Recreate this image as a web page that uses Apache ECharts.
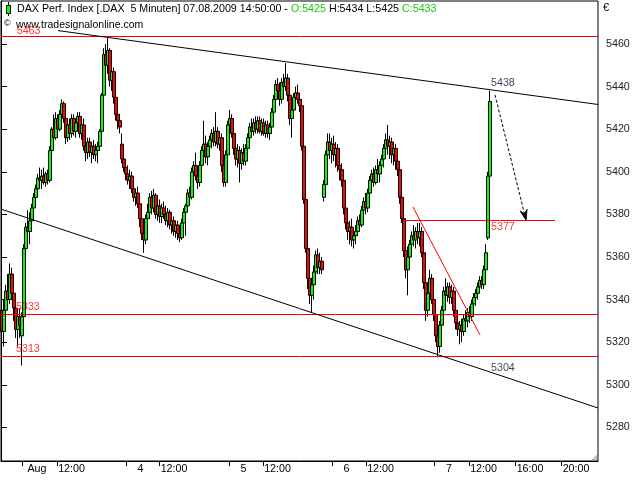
<!DOCTYPE html>
<html><head><meta charset="utf-8">
<script src="https://cdn.jsdelivr.net/npm/echarts@6/dist/echarts.min.js"></script>
<style>html,body{margin:0;padding:0;background:#fff}#c{width:640px;height:480px}</style>
</head><body><div id="c"></div>
<script>
// Each candle = [open, high, low, close], one candle per two 5-minute bars
const julTail = [
[5335,5349,5304,5325],[5325,5340,5318,5335],[5335,5347,5330,5344],[5344,5352,5336,5340],[5340,5357,5338,5352],
[5352,5355,5340,5343],[5343,5348,5330,5336],[5336,5340,5322,5326],[5326,5335,5318,5332],[5332,5336,5322,5328]];
const aug3 = [
[5323,5334,5309,5332],[5332,5366,5330,5364],[5364,5376,5360,5374],[5374,5382,5368,5372],[5372,5381,5366,5377],
[5377,5385,5372,5383],[5383,5390,5380,5388],[5388,5394,5384,5392],[5392,5399,5390,5397],[5397,5402,5393,5396],
[5396,5401,5392,5398],[5398,5402,5394,5395],[5395,5400,5393,5399],[5399,5401,5394,5396],[5396,5412,5395,5410],
[5410,5421,5408,5420],[5420,5427,5414,5416],[5416,5428,5415,5425],[5425,5427,5418,5420],[5420,5429,5419,5427],
[5427,5434,5424,5432],[5432,5433,5423,5425],[5425,5428,5413,5416],[5416,5424,5414,5422],[5422,5425,5415,5418],
[5418,5427,5416,5425],[5425,5427,5417,5419],[5419,5425,5416,5423],[5423,5428,5419,5426],[5426,5428,5416,5418],
[5418,5424,5415,5422],[5422,5425,5410,5412],[5412,5418,5405,5409],[5409,5416,5406,5414],[5414,5416,5407,5409],
[5409,5414,5404,5412],[5412,5415,5406,5408],[5408,5413,5405,5410],[5410,5414,5404,5412],[5412,5420,5410,5419],
[5419,5437,5417,5436],[5436,5458,5434,5455],[5455,5460,5445,5450],[5450,5463,5446,5457],[5457,5458,5440,5443],
[5443,5450,5438,5447],[5447,5449,5432,5435],[5435,5438,5424,5427],[5427,5430,5420,5424],[5424,5427,5418,5421]];
const aug4 = [
[5413,5418,5404,5406],[5406,5410,5400,5402],[5402,5406,5396,5399],[5399,5403,5394,5396],[5396,5401,5392,5398],
[5398,5400,5390,5392],[5392,5396,5386,5388],[5388,5392,5384,5390],[5390,5393,5383,5385],[5385,5388,5374,5378],
[5378,5382,5368,5371],[5371,5376,5362,5368],[5368,5380,5366,5378],[5378,5385,5375,5381],[5381,5390,5378,5388],
[5388,5391,5380,5383],[5383,5392,5381,5389],[5389,5390,5378,5380],[5380,5386,5377,5384],[5384,5387,5376,5379],
[5379,5385,5376,5383],[5383,5386,5378,5380],[5380,5384,5375,5377],[5377,5383,5374,5381],[5381,5382,5373,5375],
[5375,5380,5371,5377],[5377,5379,5370,5372],[5372,5377,5369,5375],[5375,5377,5368,5371],[5371,5374,5367,5369],
[5369,5378,5368,5376],[5376,5383,5372,5381],[5381,5385,5370,5384],[5384,5392,5382,5390],[5390,5393,5386,5388],
[5388,5402,5387,5400],[5400,5405,5395,5403],[5403,5409,5396,5398],[5398,5402,5392,5395],[5395,5405,5393,5403],
[5403,5412,5400,5410],[5410,5424,5407,5413],[5413,5417,5404,5407],[5407,5414,5403,5412],[5412,5417,5409,5415],
[5415,5420,5411,5418],[5418,5421,5412,5414],[5414,5428,5412,5419],[5419,5421,5411,5413],[5413,5418,5410,5416]];
const aug5 = [
[5416,5418,5400,5403],[5403,5405,5393,5395],[5395,5410,5393,5408],[5408,5424,5406,5422],[5422,5429,5418,5425],
[5425,5427,5416,5418],[5418,5420,5408,5411],[5411,5415,5403,5406],[5406,5413,5402,5410],[5410,5412,5395,5404],
[5404,5411,5401,5409],[5409,5413,5403,5405],[5405,5413,5403,5411],[5411,5418,5409,5416],[5416,5423,5414,5421],
[5421,5425,5417,5419],[5419,5425,5417,5423],[5423,5426,5418,5420],[5420,5426,5418,5424],[5424,5426,5418,5419],
[5419,5425,5417,5423],[5423,5425,5417,5418],[5418,5424,5416,5422],[5422,5424,5416,5418],[5418,5423,5415,5421],
[5421,5430,5418,5428],[5428,5436,5426,5434],[5434,5443,5432,5441],[5441,5444,5435,5438],[5438,5442,5431,5434],
[5434,5444,5432,5442],[5442,5446,5437,5440],[5440,5451,5438,5444],[5444,5446,5433,5436],[5436,5438,5422,5425],
[5425,5430,5416,5429],[5429,5437,5427,5435],[5435,5440,5431,5437],[5437,5441,5432,5434],[5434,5437,5428,5431],
[5431,5434,5410,5412],[5412,5414,5385,5387],[5387,5390,5362,5364],[5364,5368,5345,5350],[5350,5355,5338,5342],
[5342,5350,5334,5347],[5347,5356,5340,5353],[5353,5363,5350,5361],[5361,5364,5352,5355],[5355,5362,5352,5358],
[5358,5360,5352,5354]];
const aug6 = [
[5388,5396,5386,5394],[5394,5410,5392,5408],[5408,5418,5405,5414],[5414,5418,5406,5410],[5410,5416,5404,5413],
[5413,5417,5405,5408],[5408,5414,5402,5411],[5411,5413,5400,5403],[5403,5407,5396,5401],[5401,5404,5393,5396],
[5396,5398,5380,5383],[5383,5386,5373,5376],[5376,5380,5368,5372],[5372,5377,5366,5374],[5374,5378,5365,5368],
[5368,5372,5364,5370],[5370,5375,5366,5372],[5372,5379,5370,5377],[5377,5380,5373,5375],[5375,5384,5374,5382],
[5382,5388,5379,5386],[5386,5390,5380,5383],[5383,5392,5381,5390],[5390,5398,5388,5396],[5396,5401,5392,5399],
[5399,5402,5393,5395],[5395,5403,5394,5401],[5401,5406,5396,5399],[5399,5405,5395,5403],[5403,5408,5399,5406],
[5406,5413,5402,5411],[5411,5418,5407,5415],[5415,5422,5408,5412],[5412,5417,5406,5414],[5414,5416,5404,5408],
[5408,5414,5403,5411],[5411,5413,5401,5405],[5405,5408,5398,5401],[5401,5403,5385,5388],[5388,5390,5376,5378],
[5378,5380,5360,5363],[5363,5368,5350,5354],[5354,5365,5342,5360],[5360,5368,5357,5366],[5366,5372,5362,5370],
[5370,5375,5365,5368],[5368,5374,5364,5372],[5372,5376,5366,5369],[5369,5376,5365,5372]];
const aug7 = [
[5372,5374,5360,5362],[5362,5364,5345,5348],[5348,5352,5330,5335],[5335,5345,5332,5343],[5343,5354,5340,5350],
[5350,5352,5338,5340],[5340,5342,5330,5333],[5333,5336,5320,5323],[5323,5326,5313,5318],[5318,5330,5315,5328],
[5328,5337,5325,5335],[5335,5346,5332,5344],[5344,5350,5339,5342],[5342,5348,5339,5346],[5346,5348,5338,5341],
[5341,5347,5338,5344],[5344,5346,5332,5335],[5335,5338,5326,5329],[5329,5332,5323,5326],[5326,5330,5319,5328],
[5328,5331,5320,5325],[5325,5333,5323,5331],[5331,5335,5327,5330],[5330,5336,5327,5334],[5334,5337,5329,5332],
[5332,5340,5330,5338],[5338,5343,5335,5341],[5341,5345,5337,5343],[5343,5348,5340,5346],[5346,5351,5343,5349],
[5349,5351,5345,5347],[5347,5356,5345,5354],[5354,5366,5352,5362],[5369,5400,5368,5398],[5398,5438,5396,5433]];

// axis ticks (bar numbers of 5-minute bars) and labels
const yTicks = [5280,5300,5320,5340,5360,5380,5400,5420,5440,5460];
const xTickBars = [21.5,125,228,331,433.5,56,158.5,262,365,468,514.5,560.5];
const xTickTexts = ['Aug','4','5','6','7','12:00','12:00','12:00','12:00','12:00','16:00','20:00'];
const xLabelShift = 14.5;

// drawn annotations (bar, price)
const levels = [5463.6,5333,5313.4];
const targetLevel = 5377, targetFrom = 404, targetTo = 554;
const upperTrend = [[57,5466.3],[597,5431.6]];
const lowerTrend = [[0,5382.5],[597,5289.1]];
const breakLine = [[412,5383.5],[479,5323.4]];
const arrowLine = [[494,5436.1],[525,5377.4]];
const annTexts = ['5463','5333','5313','5377','5438','5304'];
const annPoints = [[15.7,5466.1],[15,5336.5],[15,5316.6],[490,5374.1],[490,5441.5],[490,5308.1]];

const FONT = "'Liberation Sans', Arial, sans-serif";
const RED = '#ff0000', BLACK = '#000000';
const annColors = [RED, RED, RED, RED, '#0c1430', '#0c1430'];
const all = [].concat(julTail, aug3, aug4, aug5, aug6, aug7);
const candles = all.map((c, i) => [1 + 2 * i, c[0], c[3], c[2], c[1]]);
const labelMap = new Map();
xTickBars.forEach((b, i) => labelMap.set(Math.round((b + xLabelShift) * 10), xTickTexts[i]));

const lineItems = [
  ...levels.map(v => ({from: [0, v], to: [597, v], color: RED})),
  {from: [targetFrom, targetLevel], to: [targetTo, targetLevel], color: RED},
  {from: breakLine[0], to: breakLine[1], color: RED},
  {from: upperTrend[0], to: upperTrend[1], color: BLACK},
  {from: lowerTrend[0], to: lowerTrend[1], color: BLACK},
  {from: arrowLine[0], to: arrowLine[1], color: BLACK, dash: [3, 2], arrow: true}
];

function renderLine(params, api) {
  const it = lineItems[params.dataIndex];
  let a = api.coord(it.from), b = api.coord(it.to);
  if (it.from[1] === it.to[1]) {
    const y = Math.round(a[1] - 0.5) + 0.5;
    a = [Math.round(a[0]), y]; b = [Math.round(b[0]), y];
  }
  const children = [{type: 'line', shape: {x1: a[0], y1: a[1], x2: b[0], y2: b[1]},
    style: {stroke: it.color, lineWidth: 1, lineDash: it.dash || null, fill: null}}];
  if (it.arrow) {
    const dx = b[0] - a[0], dy = b[1] - a[1], L = Math.hypot(dx, dy);
    const ux = dx / L, uy = dy / L, hl = 10, hw = 3.5;
    const bx = b[0] - ux * hl, by = b[1] - uy * hl;
    children.push({type: 'polygon', shape: {points: [[b[0], b[1]], [bx - uy * hw, by + ux * hw], [b[0] - ux * 6, b[1] - uy * 6], [bx + uy * hw, by - ux * hw]]},
      style: {fill: it.color, stroke: it.color, lineWidth: 1}});
  }
  return {type: 'group', children};
}

const chart = echarts.init(document.getElementById('c'));
chart.setOption({
  animation: false,
  backgroundColor: '#fff',
  grid: {left: 1, right: 42, top: 1, bottom: 19, show: true, borderColor: '#000', borderWidth: 1},
  xAxis: {
    type: 'value', min: 0, max: 597,
    axisLine: {show: true, lineStyle: {color: '#000'}},
    axisTick: {show: true, customValues: xTickBars, length: 5, lineStyle: {color: '#000'}},
    axisLabel: {show: true, customValues: xTickBars.map(b => b + xLabelShift),
      formatter: v => labelMap.get(Math.round(v * 10)) || '',
      color: '#000', fontFamily: FONT, fontSize: 10.7, margin: 3},
    splitLine: {show: false}
  },
  yAxis: {
    type: 'value', position: 'right', min: 5264.23, max: 5480.19,
    axisLine: {show: true, lineStyle: {color: '#000'}},
    axisTick: {show: true, customValues: yTicks, length: 6, lineStyle: {color: '#000'}},
    axisLabel: {show: true, customValues: yTicks, formatter: v => String(Math.round(v)),
      color: '#222', fontFamily: FONT, fontSize: 10.7, margin: 8},
    splitLine: {show: false}
  },
  series: [
    {
      type: 'candlestick', data: candles, encode: {x: 0, y: [1, 2, 3, 4]},
      barWidth: 4, silent: true, z: 2,
      itemStyle: {color: '#00ff00', color0: '#ff0000', borderColor: '#000', borderColor0: '#000', borderWidth: 1}
    },
    {
      type: 'custom', silent: true, z: 3, clip: true,
      data: lineItems.map(it => it.from), encode: {x: 0, y: 1},
      renderItem: renderLine
    },
    {
      type: 'scatter', symbolSize: 0, silent: true, z: 5,
      data: annPoints.map((p, i) => ({value: p, label: {color: annColors[i]}})),
      label: {show: true, position: 'right', distance: 0, formatter: p => annTexts[p.dataIndex],
        fontFamily: FONT, fontSize: 10.7, verticalAlign: 'middle'}
    }
  ],
  graphic: [
    {type: 'line', shape: {x1: 8.5, y1: 2, x2: 8.5, y2: 16}, style: {stroke: '#000', lineWidth: 1}},
    {type: 'rect', shape: {x: 6.5, y: 5.5, width: 4, height: 8}, style: {fill: '#00ff00', stroke: '#000', lineWidth: 1}},
    {type: 'text', x: 17, y: 9.5, style: {
      text: '{b|DAX Perf. Index [.DAX  5 Minuten] 07.08.2009 14:50:00 - }{g|O:5425}{b| H:5434 L:5425 }{g|C:5433}',
      font: '10.7px ' + FONT, verticalAlign: 'middle',
      rich: {b: {fill: '#000', fontSize: 10.7, fontFamily: FONT}, g: {fill: '#14c814', fontSize: 10.7, fontFamily: FONT}}}},
    {type: 'text', x: 4, y: 24, style: {text: '©', font: '9px ' + FONT, fill: '#000', verticalAlign: 'middle'}},
    {type: 'text', x: 16, y: 25.5, style: {text: 'www.tradesignalonline.com', font: '10.5px ' + FONT, fill: '#000', verticalAlign: 'middle'}},
    {type: 'text', x: 603, y: 8, style: {text: '€', font: '11px ' + FONT, fill: '#000', verticalAlign: 'middle'}},
    {type: 'polygon', shape: {points: [[597, 455], [597, 460], [592, 460]]}, style: {fill: '#ccc', stroke: '#888', lineWidth: 0.5}}
  ]
});
</script></body></html>
